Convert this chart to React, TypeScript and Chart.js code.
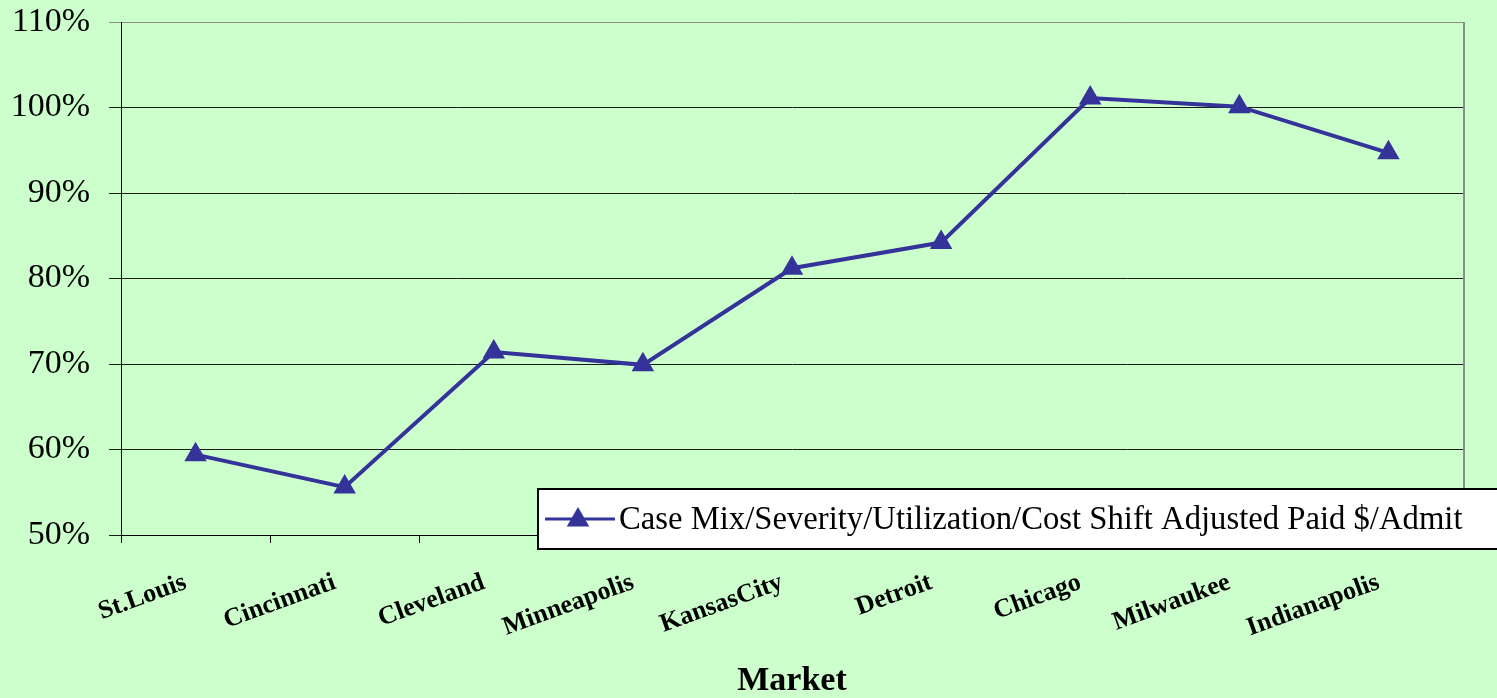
import React, { useEffect, useRef } from 'react';
import { Chart, registerables } from 'chart.js';

Chart.register(...registerables);

const categories = ['St.Louis', 'Cincinnati', 'Cleveland', 'Minneapolis', 'KansasCity', 'Detroit', 'Chicago', 'Milwaukee', 'Indianapolis'];
const seriesLabel = 'Case Mix/Severity/Utilization/Cost Shift Adjusted Paid $/Admit';
const seriesValues = [59.4, 55.6, 71.4, 69.9, 81.2, 84.2, 101.1, 100.1, 94.7];
const yMin = 50;
const yMax = 110;
const yStep = 10;
const xTitle = 'Market';

const BG = '#CCFFCC';
const LINE = '#333399';
const SERIF = '"Liberation Serif", "Times New Roman", serif';

const bgPlugin = {
  id: 'bgFill',
  beforeDraw(chart: any) {
    const { ctx, width, height } = chart;
    ctx.save();
    ctx.fillStyle = BG;
    ctx.fillRect(0, 0, width, height);
    ctx.restore();
  },
  beforeDatasetsDraw(chart: any) {
    const { ctx, chartArea } = chart;
    ctx.save();
    ctx.strokeStyle = '#8c8c8c';
    ctx.lineWidth = 2;
    ctx.beginPath();
    ctx.moveTo(chartArea.right + 1, chartArea.top);
    ctx.lineTo(chartArea.right + 1, chartArea.bottom);
    ctx.stroke();
    ctx.restore();
  },
};

function triangle(ctx: CanvasRenderingContext2D, x: number, y: number, r: number) {
  ctx.beginPath();
  ctx.moveTo(x, y - r);
  ctx.lineTo(x + r * 0.866, y + r * 0.5);
  ctx.lineTo(x - r * 0.866, y + r * 0.5);
  ctx.closePath();
  ctx.fill();
}

const legendPlugin = {
  id: 'boxLegend',
  afterDraw(chart: any) {
    const { ctx } = chart;
    const ds = chart.data.datasets[0];
    ctx.save();
    const x = 538, y = 489, w = 1000, h = 60;
    ctx.fillStyle = '#ffffff';
    ctx.fillRect(x, y, w, h);
    ctx.lineWidth = 2;
    ctx.strokeStyle = '#000';
    ctx.strokeRect(x, y, w, h);
    const cy = y + h / 2;
    ctx.strokeStyle = LINE;
    ctx.lineWidth = 3;
    ctx.beginPath();
    ctx.moveTo(545, cy);
    ctx.lineTo(615, cy);
    ctx.stroke();
    ctx.fillStyle = LINE;
    triangle(ctx, 578, cy + 1, 13);
    ctx.fillStyle = '#000';
    ctx.font = `32.7px ${SERIF}`;
    ctx.textBaseline = 'middle';
    ctx.textAlign = 'left';
    ctx.fillText(ds.label, 619, cy + 1);
    ctx.restore();
  },
};

export default function App() {
  const ref = useRef<HTMLCanvasElement | null>(null);
  useEffect(() => {
    document.body.style.margin = '0';
    if (!ref.current) return;
    const chart = new Chart(ref.current, {
      type: 'line',
      data: {
        labels: categories,
        datasets: [
          {
            label: seriesLabel,
            data: seriesValues,
            borderColor: LINE,
            backgroundColor: LINE,
            borderWidth: 4,
            pointStyle: 'triangle',
            pointRadius: 13,
            pointHoverRadius: 13,
            pointBackgroundColor: LINE,
            pointBorderColor: LINE,
            pointBorderWidth: 0,
            tension: 0,
          },
        ],
      },
      options: {
        responsive: false,
        animation: false,
        layout: { padding: { top: 22, right: 34, left: 0, bottom: 0 } },
        plugins: {
          legend: { display: false },
          tooltip: { enabled: false },
        },
        scales: {
          x: {
            offset: true,
            grid: {
              offset: true,
              drawOnChartArea: false,
              drawTicks: true,
              tickLength: 8,
              color: '#000',
              lineWidth: 1,
            },
            border: { color: '#000', width: 1 },
            ticks: {
              autoSkip: false,
              minRotation: 20,
              maxRotation: 20,
              padding: 24,
              labelOffset: -10,
              color: '#000',
              font: { family: SERIF, size: 26, weight: 'bold' },
            },
            title: {
              display: true,
              text: xTitle,
              color: '#000',
              font: { family: SERIF, size: 34, weight: 'bold', lineHeight: 1 },
              padding: { top: 0, bottom: 0 },
            },
            afterFit(scale: any) {
              scale.height = 163;
              scale.paddingLeft = 0;
              scale.paddingRight = 0;
            },
          },
          y: {
            min: yMin,
            max: yMax,
            grid: {
              drawTicks: true,
              tickLength: 12,
              color: (c: any) => (c.tick && c.tick.value === yMax ? '#8c8c8c' : '#1a1a1a'),
              lineWidth: 1,
            },
            border: { color: '#000', width: 1 },
            ticks: {
              stepSize: yStep,
              padding: 19,
              color: '#000',
              font: { family: SERIF, size: 34 },
              callback: (v: any) => `${v}%`,
            },
            afterFit(scale: any) {
              scale.width = 121;
              scale.paddingTop = 0;
              scale.paddingBottom = 0;
            },
          },
        },
      },
      plugins: [bgPlugin, legendPlugin],
    });
    return () => chart.destroy();
  }, []);
  return (
    <div style={{ width: 1497, height: 698, background: BG }}>
      <canvas ref={ref} width={1497} height={698} />
    </div>
  );
}
